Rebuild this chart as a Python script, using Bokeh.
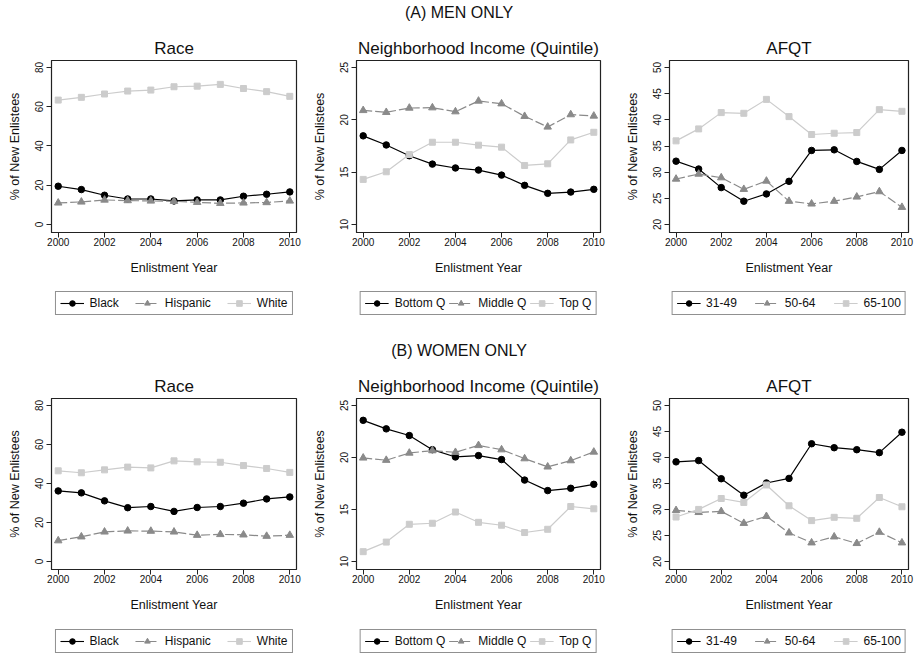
from bokeh.plotting import figure
from bokeh.models import Range1d, Legend, LegendItem, FixedTicker
from bokeh.layouts import column, row
from bokeh.embed import file_html
from bokeh.resources import INLINE
from bokeh.core.properties import value

FONT = "Liberation Sans"

years = [2000, 2001, 2002, 2003, 2004, 2005, 2006, 2007, 2008, 2009, 2010]
year_ticks = [2000, 2002, 2004, 2006, 2008, 2010]

race_labels = ["Black", "Hispanic", "White"]
income_labels = ["Bottom Q", "Middle Q", "Top Q"]
afqt_labels = ["31-49", "50-64", "65-100"]

race_ticks = [0, 20, 40, 60, 80]
income_ticks = [10, 15, 20, 25]
afqt_ticks = [20, 25, 30, 35, 40, 45, 50]

# (A) Men only
men_race_black = [19.5, 17.8, 14.9, 13.0, 13.0, 12.0, 12.5, 12.5, 14.4, 15.4, 16.6]
men_race_hispanic = [11.0, 11.5, 12.5, 12.2, 12.0, 11.8, 11.3, 10.8, 11.0, 11.2, 12.0]
men_race_white = [63.4, 64.8, 66.5, 68.0, 68.5, 70.2, 70.5, 71.4, 69.3, 67.7, 65.3]

men_inc_bottom = [18.47, 17.6, 16.57, 15.77, 15.4, 15.2, 14.72, 13.74, 12.98, 13.1, 13.36]
men_inc_middle = [20.9, 20.72, 21.13, 21.16, 20.78, 21.8, 21.54, 20.34, 19.32, 20.5, 20.37]
men_inc_top = [14.31, 15.04, 16.69, 17.86, 17.86, 17.58, 17.39, 15.64, 15.8, 18.08, 18.81]

men_afqt_31_49 = [32.1, 30.6, 27.05, 24.45, 25.84, 28.25, 34.15, 34.27, 32.05, 30.53, 34.15]
men_afqt_50_64 = [28.69, 29.64, 28.95, 26.73, 28.31, 24.45, 23.94, 24.45, 25.27, 26.29, 23.3]
men_afqt_65_100 = [35.98, 38.27, 41.38, 41.25, 43.91, 40.62, 37.2, 37.44, 37.57, 41.95, 41.63]

# (B) Women only
women_race_black = [36.2, 35.2, 31.1, 27.6, 28.2, 25.7, 27.7, 28.2, 29.9, 32.1, 33.1]
women_race_hispanic = [10.7, 12.7, 15.2, 15.7, 15.6, 15.2, 13.5, 13.9, 13.7, 13.0, 13.5]
women_race_white = [46.5, 45.5, 47.0, 48.4, 48.0, 51.6, 51.1, 50.9, 49.2, 47.7, 45.7]

women_inc_bottom = [23.57, 22.75, 22.11, 20.75, 20.05, 20.18, 19.8, 17.83, 16.82, 17.04, 17.42]
women_inc_middle = [19.96, 19.74, 20.43, 20.66, 20.5, 21.16, 20.75, 19.89, 19.1, 19.7, 20.53]
women_inc_top = [10.95, 11.87, 13.58, 13.68, 14.76, 13.77, 13.49, 12.79, 13.1, 15.29, 15.07]

women_afqt_31_49 = [39.16, 39.41, 35.92, 32.75, 35.1, 35.98, 42.64, 41.88, 41.5, 40.93, 44.86]
women_afqt_50_64 = [29.83, 29.45, 29.64, 27.36, 28.69, 25.52, 23.61, 24.76, 23.49, 25.65, 23.61]
women_afqt_65_100 = [28.56, 30.02, 32.12, 31.36, 34.72, 30.72, 27.87, 28.5, 28.31, 32.31, 30.53]

C1, C2, C3 = "#000000", "#8a8a8a", "#cccccc"
STYLES = [
    dict(color=C1, dash="solid", marker="circle", size=6.5),
    dict(color=C2, dash="9 3", marker="triangle", size=7.5),
    dict(color=C3, dash="solid", marker="square", size=6),
]


def draw_series(p, xs, series, scale=1.0, lw=1.2):
    out = []
    for s, st in zip(series, STYLES):
        ln = p.line(xs, s, line_color=st["color"], line_width=lw, line_dash=st["dash"])
        mk = p.scatter(xs, s, marker=st["marker"], size=st["size"] * scale, color=st["color"])
        out.append([ln, mk])
    return out


def panel(title, series, yr, yticks, bl, fw, br, bt, fh, bb):
    p = figure(frame_width=fw, frame_height=fh,
               min_border_left=bl, min_border_right=br,
               min_border_top=bt, min_border_bottom=bb,
               x_range=Range1d(1999.71, 2010.29), y_range=Range1d(*yr),
               output_backend="svg", toolbar_location=None, title=title)
    p.title.align = "center"
    p.title.text_font = FONT
    p.title.text_font_size = "17px"
    p.title.text_font_style = "normal"
    p.title.text_color = "#111111"
    p.title.standoff = 5
    p.outline_line_color = "#222222"
    p.outline_line_width = 1.2
    p.grid.visible = False
    for ax in (p.xaxis[0], p.yaxis[0]):
        ax.axis_line_color = "#222222"
        ax.major_tick_out = 5
        ax.major_tick_in = 0
        ax.minor_tick_out = 0
        ax.minor_tick_in = 0
        ax.major_tick_line_color = "#222222"
        ax.major_label_text_font = FONT
        ax.major_label_text_font_size = "10px"
        ax.major_label_text_color = "#111111"
        ax.axis_label_text_font = FONT
        ax.axis_label_text_font_size = "12.5px"
        ax.axis_label_text_font_style = "normal"
        ax.axis_label_text_color = "#111111"
    p.xaxis.ticker = FixedTicker(ticks=year_ticks)
    p.yaxis.ticker = FixedTicker(ticks=yticks)
    p.xaxis.axis_label = "Enlistment Year"
    p.yaxis.axis_label = "% of New Enlistees"
    p.yaxis.major_label_orientation = "vertical"
    p.xaxis.major_label_standoff = 0
    p.yaxis.major_label_standoff = 3
    p.xaxis.axis_label_standoff = 12
    p.yaxis.axis_label_standoff = 11
    draw_series(p, years, series)
    return p


def legend_fig(labels, width, height, bl, br, top, spacing):
    f = figure(width=width, height=height, x_range=Range1d(0, 1), y_range=Range1d(0, 1),
               min_border_left=bl, min_border_right=br, min_border_top=0, min_border_bottom=0,
               output_backend="svg", toolbar_location=None,
               x_axis_location=None, y_axis_location=None)
    f.grid.visible = False
    f.outline_line_color = None
    # glyphs kept outside the visible range: only their legend keys show
    rends = draw_series(f, [-5, -4], [[-5, -4], [-5, -4], [-5, -4]], scale=0.75, lw=1.1)
    leg = Legend(items=[LegendItem(label=lab, renderers=r) for lab, r in zip(labels, rends)],
                 orientation="horizontal", location="top_center")
    leg.label_text_font = FONT
    leg.label_text_font_size = "12px"
    leg.label_text_color = "#111111"
    leg.glyph_width = 24
    leg.glyph_height = 14
    leg.label_standoff = 6
    leg.spacing = spacing
    leg.padding = 4
    leg.margin = top
    leg.border_line_color = "#222222"
    leg.border_line_width = 1
    f.add_layout(leg)
    return f


def title_fig(text, w, h, yc):
    t = figure(width=w, height=h, x_range=Range1d(0, w), y_range=Range1d(0, h),
               output_backend="svg", toolbar_location=None,
               x_axis_location=None, y_axis_location=None, min_border=0)
    t.grid.visible = False
    t.outline_line_color = None
    t.text(x=[w / 2], y=[yc], text=[text], text_align="center", text_baseline="middle",
           text_font=value(FONT), text_font_size="16px", text_color="#111111")
    return t


def panel_row(groups, fh, leg_h, leg_top):
    cols = []
    # (border left, frame width, border right, column width, legend border left, legend border right, spacing)
    specs = [(51, 245, 11, 307, 40, 0, 16), (49, 244, 20, 313, 29, 0, 3), (49, 239, 9, 297, 40, 0, 18)]
    for (title, series, labels, yr, yt), (bl, fw, br, w, lbl, lbr, sp) in zip(groups, specs):
        p = panel(title, series, yr, yt, bl, fw, br, 30, fh, 48)
        lf = legend_fig(labels, w, leg_h, lbl, lbr, leg_top, sp)
        cols.append(column(p, lf))
    return row(*cols)


rowA = panel_row([
    ("Race", (men_race_black, men_race_hispanic, men_race_white), race_labels,
     (-4.08, 83.57), race_ticks),
    ("Neighborhood Income (Quintile)", (men_inc_bottom, men_inc_middle, men_inc_top),
     income_labels, (9.236, 25.669), income_ticks),
    ("AFQT", (men_afqt_31_49, men_afqt_50_64, men_afqt_65_100), afqt_labels,
     (18.47, 51.34), afqt_ticks),
], 172, 58, 11)

rowB = panel_row([
    ("Race", (women_race_black, women_race_hispanic, women_race_white), race_labels,
     (-4.08, 83.57), race_ticks),
    ("Neighborhood Income (Quintile)", (women_inc_bottom, women_inc_middle, women_inc_top),
     income_labels, (9.236, 25.669), income_ticks),
    ("AFQT", (women_afqt_31_49, women_afqt_50_64, women_afqt_65_100), afqt_labels,
     (18.47, 51.34), afqt_ticks),
], 171, 36, 12)

layout = column(title_fig("(A) MEN ONLY", 917, 30, 18), rowA,
                title_fig("(B) WOMEN ONLY", 917, 30, 18), rowB)

open("out.html", "w").write(file_html(layout, INLINE))
